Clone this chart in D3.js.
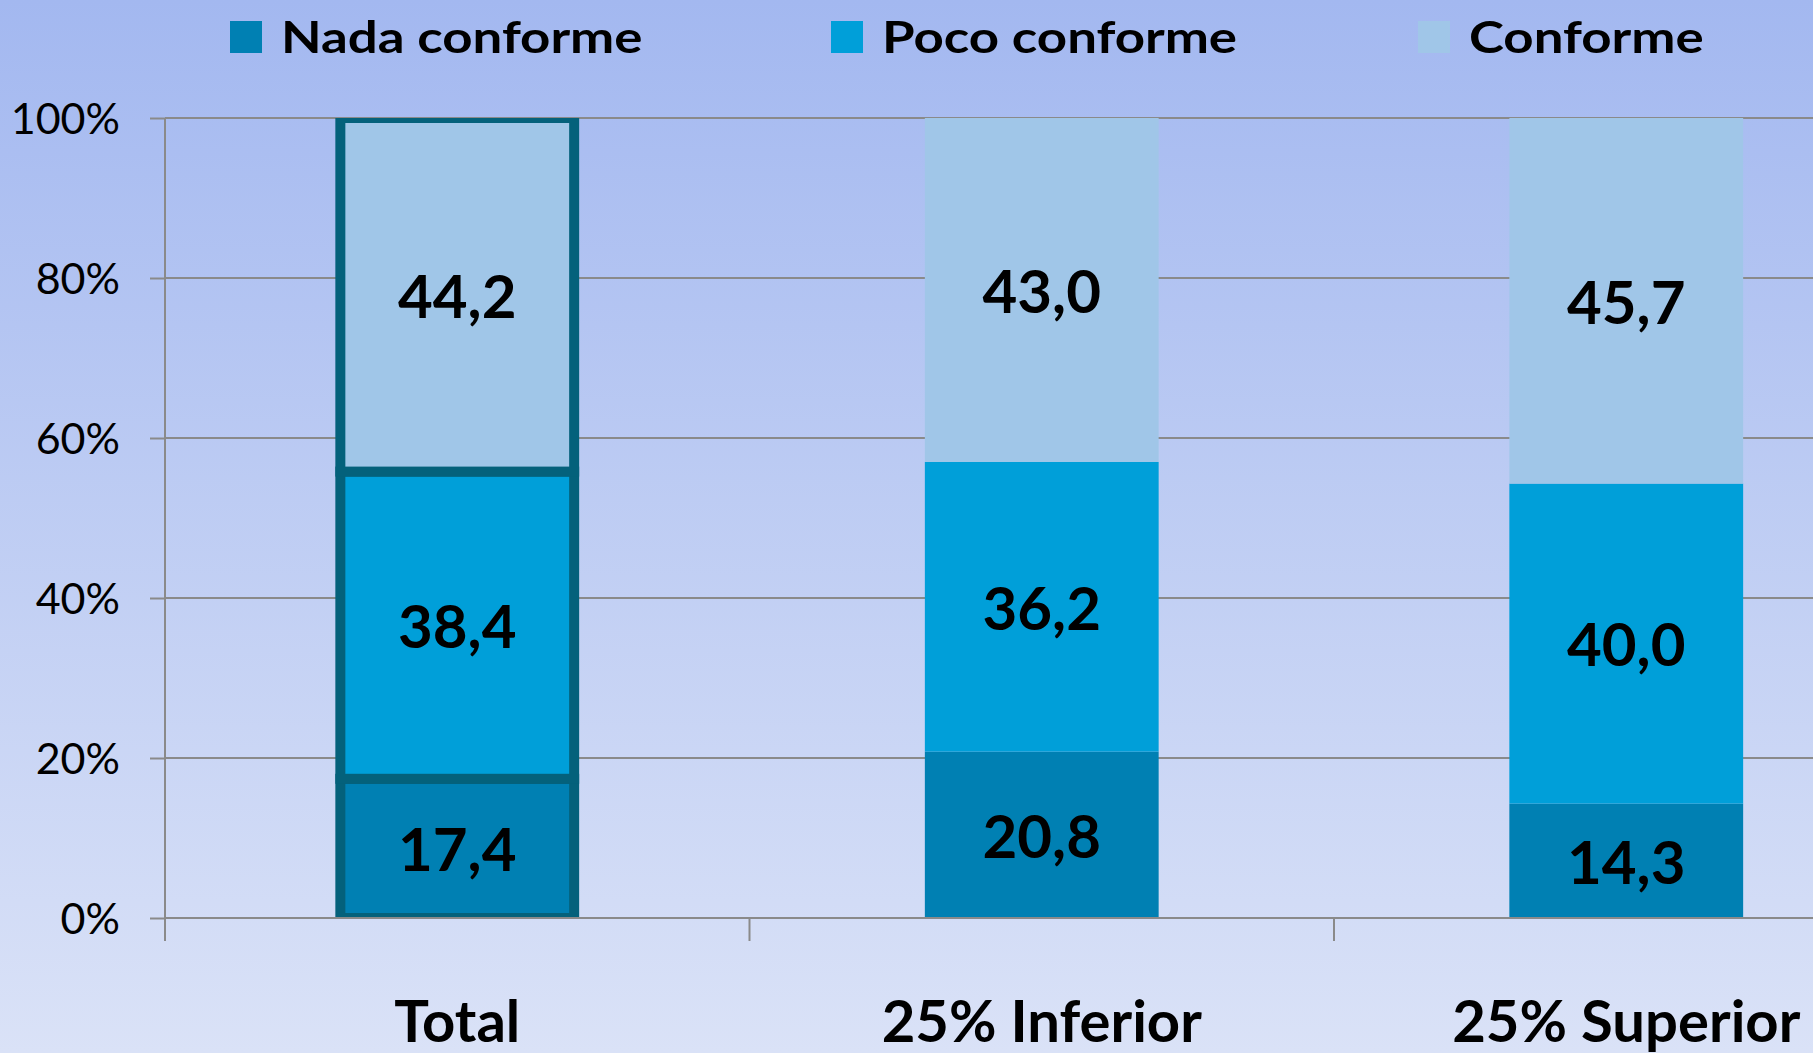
<!DOCTYPE html>
<html>
<head>
<meta charset="utf-8">
<script src="https://cdn.jsdelivr.net/npm/d3@7"></script>
<style>
  html, body { margin: 0; padding: 0; overflow: hidden; }
  svg { display: block; }
  text { font-family: Lato, "Open Sans", sans-serif; fill: #000; }
</style>
</head>
<body>
<script>
'use strict';

// chart data
const categories = ["Total", "25% Inferior", "25% Superior"];
const seriesNames = ["Nada conforme", "Poco conforme", "Conforme"];
const nadaValues = [17.4, 20.8, 14.3];
const pocoValues = [38.4, 36.2, 40.0];
const conformeValues = [44.2, 43.0, 45.7];
const yTicks = [0, 20, 40, 60, 80, 100];

(function() {

  const width = 1813, height = 1053;
  const colors = ["#0080b3", "#009fd9", "#a0c6e8"];
  const borderColor = "#04617b";

  // plot area
  const plotLeft = 165, plotTop = 118, plotBottom = 918;
  const step = 584.5;

  let svg = d3.select("body")
    .append("svg")
    .attr("width", width)
    .attr("height", height);

  let defs = svg.append("defs");
  let grad = defs.append("linearGradient")
    .attr("id", "bg")
    .attr("x1", 0).attr("y1", 0).attr("x2", 0).attr("y2", 1);
  grad.append("stop").attr("offset", "0%").attr("stop-color", "#a3b8f0");
  grad.append("stop").attr("offset", "100%").attr("stop-color", "#dae2f7");

  defs.append("clipPath")
    .attr("id", "plotClip")
    .append("rect")
    .attr("x", 0).attr("y", plotTop)
    .attr("width", width).attr("height", plotBottom - plotTop);

  svg.append("rect")
    .attr("width", width)
    .attr("height", height)
    .attr("fill", "url(#bg)");

  // scales
  let xScale = d3.scaleBand()
    .domain(categories)
    .range([plotLeft, plotLeft + step * categories.length])
    .paddingInner(0.6)
    .paddingOuter(0.3);

  let yScale = d3.scaleLinear()
    .domain([0, 100])
    .range([plotBottom, plotTop]);

  // stack the series
  let rows = categories.map((c, i) => ({
    category: c,
    "Nada conforme": nadaValues[i],
    "Poco conforme": pocoValues[i],
    "Conforme": conformeValues[i]
  }));
  let stacked = d3.stack().keys(seriesNames)(rows);

  // gridlines + y axis with ticks to the left
  let yAxis = d3.axisLeft(yScale)
    .tickValues(yTicks)
    .tickSize(15)
    .tickFormat(d => d + "%");

  let gridG = svg.append("g")
    .attr("transform", "translate(" + plotLeft + ",0)");
  gridG.selectAll(".grid")
    .data(yTicks)
    .enter()
    .append("line")
    .attr("x1", 0)
    .attr("x2", width)
    .attr("y1", d => yScale(d))
    .attr("y2", d => yScale(d))
    .attr("stroke", "#8a8a8a")
    .attr("stroke-width", 2);

  let yG = svg.append("g")
    .attr("transform", "translate(" + plotLeft + ",0)")
    .call(yAxis);
  yG.select(".domain").remove();
  yG.selectAll(".tick line")
    .attr("stroke", "#8a8a8a")
    .attr("stroke-width", 2);
  yG.selectAll(".tick text")
    .attr("x", -45)
    .attr("dy", "0.36em")
    .style("font-family", "Lato, sans-serif")
    .style("font-size", "43px")
    .style("fill", "#000");

  // bars
  let barG = svg.append("g").attr("clip-path", "url(#plotClip)");
  stacked.forEach((layer, li) => {
    barG.selectAll(".seg" + li)
      .data(layer)
      .enter()
      .append("rect")
      .attr("x", d => xScale(d.data.category))
      .attr("y", d => yScale(d[1]))
      .attr("width", xScale.bandwidth())
      .attr("height", d => yScale(d[0]) - yScale(d[1]))
      .attr("fill", colors[li])
      .attr("stroke", d => d.data.category === "Total" ? borderColor : "none")
      .attr("stroke-width", 10);
  });

  // value labels
  stacked.forEach((layer) => {
    svg.selectAll(null)
      .data(layer)
      .enter()
      .append("text")
      .attr("x", d => xScale(d.data.category) + xScale.bandwidth() / 2)
      .attr("y", d => yScale((d[0] + d[1]) / 2))
      .attr("dy", "0.38em")
      .attr("text-anchor", "middle")
      .style("font-size", "60px")
      .style("font-weight", "bold")
      .text(d => (d[1] - d[0]).toFixed(1).replace(".", ","));
  });

  // x axis line and ticks
  let xAxisG = svg.append("g");
  xAxisG.append("line")
    .attr("x1", plotLeft)
    .attr("x2", width)
    .attr("y1", plotBottom)
    .attr("y2", plotBottom)
    .attr("stroke", "#8a8a8a")
    .attr("stroke-width", 2);
  xAxisG.append("line")
    .attr("x1", plotLeft)
    .attr("x2", plotLeft)
    .attr("y1", plotTop)
    .attr("y2", plotBottom + 23)
    .attr("stroke", "#8a8a8a")
    .attr("stroke-width", 2);
  xAxisG.selectAll(".xtick")
    .data(categories)
    .enter()
    .append("line")
    .attr("x1", d => xScale(d) - xScale.step() * 0.3 + xScale.step())
    .attr("x2", d => xScale(d) - xScale.step() * 0.3 + xScale.step())
    .attr("y1", plotBottom)
    .attr("y2", plotBottom + 23)
    .attr("stroke", "#8a8a8a")
    .attr("stroke-width", 2);

  // category labels
  svg.selectAll(".cat")
    .data(categories)
    .enter()
    .append("text")
    .attr("x", d => xScale(d) + xScale.bandwidth() / 2)
    .attr("y", 1042)
    .attr("text-anchor", "middle")
    .style("font-size", "58px")
    .style("font-weight", "bold")
    .text(d => d);

  // legend
  const legendX = [230, 831, 1418];
  let legend = svg.selectAll(".legend")
    .data(seriesNames)
    .enter()
    .append("g")
    .attr("transform", (d, i) => "translate(" + legendX[i] + ",21)");
  legend.append("rect")
    .attr("width", 32)
    .attr("height", 32)
    .attr("fill", (d, i) => colors[i]);
  legend.append("text")
    .attr("transform", "translate(51,32) scale(1.2,1)")
    .style("font-size", "44px")
    .style("font-weight", "bold")
    .text(d => d);
})();
</script>
</body>
</html>
